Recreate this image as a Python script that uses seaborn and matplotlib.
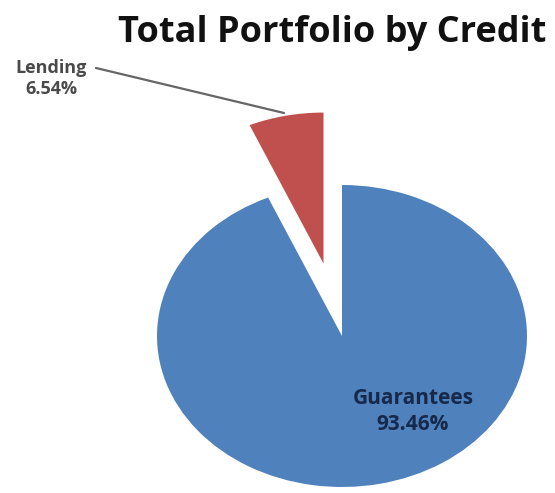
import matplotlib
matplotlib.use("Agg")
import matplotlib.pyplot as plt
import seaborn as sns

categories = ["Lending", "Guarantees"]
values = [6.54, 93.46]
colors = ["#C0504D", "#4F81BD"]
title = "Total Portfolio by Credit"

sns.set_theme(style="white")
plt.rcParams['font.family'] = ['Open Sans', 'DejaVu Sans']

W, H = 555, 493
fig = plt.figure(figsize=(W / 100, H / 100), dpi=100)
fig.patch.set_facecolor("white")

# axes placed in pixel coordinates
ax_l, ax_r, ax_t, ax_b = 157, 527, 185, 487
ax = fig.add_axes([ax_l / W, 1 - ax_b / H, (ax_r - ax_l) / W, (ax_b - ax_t) / H])

wedges, _ = ax.pie(values, colors=colors, startangle=90, counterclock=True,
                   explode=[0.49, 0.0], radius=1.0,
                   wedgeprops=dict(edgecolor="none", linewidth=0))
ax.set_xlim(-1.0, 1.0)
ax.set_ylim(-1.0, 1.0)
ax.set_aspect("auto")
ax.axis("off")

fig.text(332 / W, 1 - 33 / H, title, ha="center", va="center",
         fontsize=26, fontweight="bold", color="#111111")

fig.text(51 / W, 1 - 68 / H, categories[0], ha="center", va="center",
         fontsize=13, fontweight="bold", color="#4A4A4A")
fig.text(51 / W, 1 - 89 / H, f"{values[0]:.2f}%", ha="center", va="center",
         fontsize=13, fontweight="bold", color="#4A4A4A")

fig.text(413 / W, 1 - 398 / H, categories[1], ha="center", va="center",
         fontsize=15, fontweight="bold", color="#17294A")
fig.text(413 / W, 1 - 425 / H, f"{values[1]:.2f}%", ha="center", va="center",
         fontsize=15, fontweight="bold", color="#17294A")

# leader line from Lending label to its wedge
fig.add_artist(plt.Line2D([96 / W, 284 / W], [1 - 68 / H, 1 - 113 / H],
                          color="#666666", linewidth=1.6))

fig.savefig("out.png", dpi=100, facecolor="white")
